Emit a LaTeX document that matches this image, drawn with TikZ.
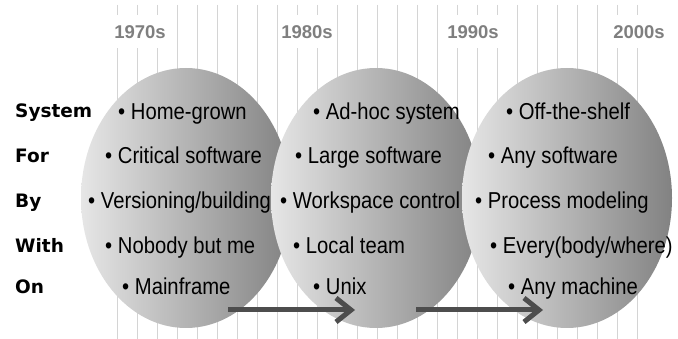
\documentclass[tikz,border=0pt]{standalone}
\usepackage{fontspec}
\setmainfont{Liberation Sans}
\newfontfamily\itemfont[FakeStretch=0.88]{Liberation Sans}
\newfontfamily\tagfont{DejaVu Sans}
\usetikzlibrary{shapes.geometric,arrows.meta}
\definecolor{gridgray}{HTML}{D4D4D4}
\definecolor{yeargray}{HTML}{7F7F7F}
\definecolor{shadeL}{HTML}{E6E6E6}
\definecolor{shadeM}{HTML}{CACACA}
\definecolor{shadeR}{HTML}{828282}
\definecolor{arrowgray}{HTML}{4D4D4D}

\begin{document}
\begin{tikzpicture}[x=1pt, y=-1pt,
  era/.style={ellipse, minimum width=210pt, minimum height=260pt, inner sep=0pt,
    left color=shadeL, middle color=shadeM, right color=shadeR},
  year/.style={fill=white, inner xsep=1pt, minimum height=33pt, text=yeargray,
    font=\fontsize{18.5}{20}\selectfont\bfseries},
  tag/.style={anchor=base west, inner sep=0pt, font=\tagfont\fontsize{18.5}{20}\selectfont\bfseries},
  item/.style={anchor=base west, inner sep=0pt, font=\itemfont\fontsize{23}{26}\selectfont},
  move/.style={draw=arrowgray, line width=5pt, -{Straight Barb[length=15pt, width=24pt]}}]
\useasboundingbox (0,0) rectangle (678,339);
\foreach \x in {0,...,26}
  \draw[gridgray, line width=0.8pt] (117+20*\x,5) -- (117+20*\x,339);
\node[year] (Y70) at (140,32) {1970s};
\node[year] (Y80) at (307,32) {1980s};
\node[year] (Y90) at (473,32) {1990s};
\node[year] (Y00) at (639,32) {2000s};
% three eras
\node[era] (E1) at (186,198) {};
\node[era] (E2) at (376,198) {};
\node[era] (E3) at (567,198) {};
% row tags
\node[tag] (System) at (15,118) {System};
\node[tag] (For) at (15,163) {For};
\node[tag] (By) at (15,208) {By};
\node[tag] (With) at (15,253) {With};
\node[tag] (On) at (15,294) {On};
% 1970s
\node[item] (a1) at (118,120) {• Home-grown};
\node[item] (a2) at (105,164) {• Critical software};
\node[item] (a3) at (88,209) {• Versioning/building};
\node[item] (a4) at (105,254) {• Nobody but me};
\node[item] (a5) at (122,295) {• Mainframe};
% 1980s
\node[item] (b1) at (313,120) {• Ad-hoc system};
\node[item] (b2) at (295,164) {• Large software};
\node[item] (b3) at (280,209) {• Workspace control};
\node[item] (b4) at (293,254) {• Local team};
\node[item] (b5) at (313,295) {• Unix};
% 1990s
\node[item] (c1) at (506,120) {• Off-the-shelf};
\node[item] (c2) at (488,164) {• Any software};
\node[item] (c3) at (475,209) {• Process modeling};
\node[item] (c4) at (490,254) {• Every(body/where)};
\node[item] (c5) at (508,295) {• Any machine};
% arrows
\coordinate (p1) at (228,310);
\coordinate (q1) at (355,310);
\coordinate (p2) at (416,310);
\coordinate (q2) at (543,310);
\draw[move] (p1) -- (q1);
\draw[move] (p2) -- (q2);
\end{tikzpicture}
\end{document}
